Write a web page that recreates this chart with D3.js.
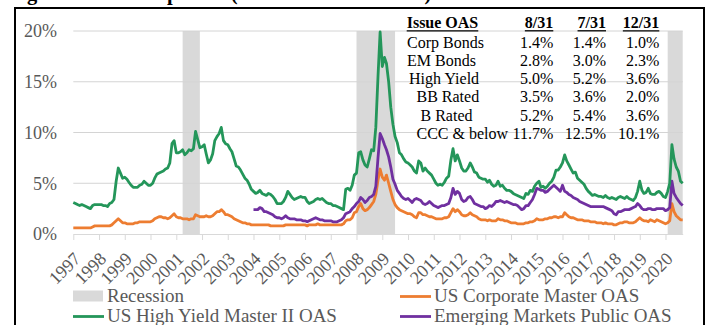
<!DOCTYPE html>
<html>
<head>
<meta charset="utf-8">
<script src="https://cdn.jsdelivr.net/npm/d3@7"></script>
<style>
  body { margin: 0; background: #fff; }
  svg { display: block; }
  text { font-family: "Liberation Serif", "Times New Roman", serif; }
</style>
</head>
<body>
<svg id="chart" width="709" height="325"></svg>
<script>
// Month-end option-adjusted spreads (%), one value per month starting Jan 1997
const hyOAS = [
  3.1, 3.0, 2.9, 2.8, 2.9, 2.8, 2.7, 2.6, 2.5, 2.8, 2.9, 2.9,
  2.9, 2.9, 2.8, 2.8, 2.7, 3.0, 3.1, 3.4, 5.2, 6.5, 6.0, 5.5,
  5.6, 5.4, 5.1, 4.8, 4.6, 4.6, 4.6, 4.8, 4.9, 5.2, 5.0, 4.8,
  4.8, 5.0, 5.5, 5.9, 6.0, 6.1, 6.2, 6.4, 6.5, 7.0, 8.9, 9.2,
  8.0, 8.0, 8.1, 8.3, 7.8, 8.0, 8.3, 8.2, 8.4, 10.1, 9.3, 8.5,
  8.6, 8.8, 7.9, 7.0, 7.3, 7.9, 9.2, 9.6, 9.9, 10.5, 9.2, 8.9,
  8.8, 8.4, 8.1, 7.4, 6.7, 6.6, 6.3, 5.9, 5.5, 5.3, 4.9, 4.4,
  4.2, 4.0, 4.1, 4.3, 4.0, 3.9, 3.8, 4.0, 3.9, 3.7, 3.4, 3.0,
  3.0, 3.0, 3.2, 3.6, 4.2, 3.9, 3.6, 3.4, 3.5, 3.6, 3.7, 3.6,
  3.6, 3.2, 3.0, 3.1, 3.2, 3.4, 3.5, 3.4, 3.5, 3.3, 3.1, 3.0,
  3.0, 2.8, 2.8, 2.7, 2.6, 2.5, 2.4, 4.4, 4.5, 4.3, 4.8, 5.8,
  6.0, 8.0, 8.1, 7.3, 6.8, 6.6, 7.4, 8.3, 8.2, 10.5, 15.5, 19.9,
  16.5, 17.4, 16.8, 15.0, 12.5, 10.8, 9.6, 9.0, 8.0, 7.8, 7.4, 7.1,
  7.0, 6.8, 6.6, 6.2, 6.0, 7.2, 7.0, 6.2, 6.5, 6.2, 6.0, 5.8,
  5.4, 5.0, 4.8, 4.9, 4.8, 5.1, 5.5, 5.7, 7.3, 8.4, 7.2, 7.8,
  7.2, 6.5, 6.2, 6.2, 6.5, 7.0, 6.6, 6.1, 6.0, 5.6, 5.5, 5.4,
  5.4, 5.1, 5.3, 4.9, 4.7, 4.8, 5.2, 4.7, 4.8, 4.5, 4.3, 4.3,
  4.2, 4.0, 3.9, 3.8, 3.7, 3.6, 3.5, 4.0, 3.9, 4.3, 4.2, 4.7,
  5.0, 5.2, 4.6, 4.7, 4.5, 4.7, 5.0, 5.2, 5.6, 6.3, 6.3, 6.6,
  7.0, 7.8, 7.2, 6.8, 6.4, 6.0, 6.1, 5.5, 5.3, 5.1, 4.9, 4.5,
  4.2, 4.0, 3.8, 3.9, 3.8, 3.7, 3.7, 3.6, 3.8, 3.6, 3.5, 3.6,
  3.5, 3.4, 3.6, 3.7, 3.6, 3.5, 3.7, 3.5, 3.4, 3.3, 3.6, 4.2,
  5.2, 4.3, 4.0, 4.1, 4.5, 4.0, 3.9, 3.9, 4.1, 4.2, 4.0, 3.7,
  3.6, 4.2, 5.0, 8.8, 7.4, 6.6, 6.2, 5.2, 5.0
];
const corpOAS = [
  0.6, 0.6, 0.6, 0.6, 0.6, 0.6, 0.6, 0.6, 0.6, 0.7, 0.8, 0.8,
  0.8, 0.8, 0.8, 0.8, 0.8, 0.8, 0.9, 1.1, 1.3, 1.5, 1.3, 1.1,
  1.1, 1.0, 1.0, 1.0, 1.0, 1.1, 1.1, 1.2, 1.2, 1.2, 1.2, 1.2,
  1.2, 1.3, 1.5, 1.6, 1.7, 1.7, 1.6, 1.6, 1.5, 1.6, 1.8, 2.0,
  1.7, 1.6, 1.6, 1.5, 1.5, 1.5, 1.4, 1.5, 1.5, 1.9, 1.8, 1.7,
  1.7, 1.7, 1.8, 1.7, 1.7, 1.8, 2.0, 2.2, 2.2, 2.4, 2.2, 1.9,
  1.9, 1.8, 1.7, 1.5, 1.4, 1.3, 1.2, 1.1, 1.1, 1.0, 1.0, 0.9,
  0.9, 0.9, 0.9, 0.9, 0.9, 0.9, 0.9, 0.9, 0.8, 0.8, 0.8, 0.8,
  0.8, 0.8, 0.8, 0.9, 0.9, 0.9, 0.9, 0.9, 0.9, 0.9, 0.9, 0.9,
  0.9, 0.8, 0.9, 0.9, 0.9, 0.9, 1.0, 0.9, 0.9, 0.9, 0.9, 0.9,
  0.9, 0.9, 0.9, 0.9, 0.9, 0.9, 1.0, 1.3, 1.4, 1.4, 1.6, 2.1,
  2.2, 2.7, 3.0, 2.5, 2.3, 2.4, 2.6, 2.9, 3.2, 3.9, 5.3, 6.4,
  5.6, 5.3, 5.8, 5.0, 4.2, 3.4, 2.9, 2.6, 2.4, 2.3, 2.2, 2.1,
  2.0, 2.0, 1.9, 1.7, 1.6, 2.1, 2.1, 1.9, 1.9, 1.8, 1.7, 1.7,
  1.6, 1.5, 1.5, 1.5, 1.5, 1.6, 1.6, 1.7, 2.1, 2.5, 2.2, 2.4,
  2.2, 1.9, 1.8, 1.8, 1.9, 2.1, 1.9, 1.8, 1.7, 1.5, 1.4, 1.4,
  1.4, 1.3, 1.4, 1.3, 1.3, 1.3, 1.5, 1.4, 1.4, 1.3, 1.3, 1.2,
  1.1, 1.1, 1.1, 1.0, 1.0, 1.0, 1.0, 1.1, 1.1, 1.2, 1.2, 1.3,
  1.5, 1.4, 1.4, 1.4, 1.5, 1.5, 1.6, 1.6, 1.7, 1.7, 1.6, 1.7,
  1.7, 2.1, 1.9, 1.7, 1.6, 1.6, 1.5, 1.4, 1.4, 1.4, 1.3, 1.3,
  1.3, 1.2, 1.2, 1.2, 1.1, 1.1, 1.1, 1.0, 1.1, 1.0, 1.0, 1.0,
  0.9, 0.9, 1.0, 1.1, 1.1, 1.2, 1.2, 1.1, 1.1, 1.1, 1.2, 1.4,
  1.6, 1.4, 1.3, 1.3, 1.2, 1.4, 1.3, 1.2, 1.4, 1.3, 1.2, 1.1,
  1.0, 1.1, 1.3, 3.0, 2.2, 1.8, 1.6, 1.4, 1.4
];
// Emerging markets index begins Jan 2004
const emStart = "2004-01";
const emOAS = [
  2.4, 2.4, 2.4, 2.6, 2.5, 2.2, 2.2, 2.1, 2.0, 1.9, 1.7, 1.6,
  1.6, 1.5, 1.6, 1.8, 1.6, 1.5, 1.5, 1.5, 1.4, 1.4, 1.4, 1.3,
  1.3, 1.2, 1.3, 1.4, 1.5, 1.6, 1.5, 1.4, 1.4, 1.3, 1.3, 1.3,
  1.3, 1.2, 1.2, 1.2, 1.3, 1.4, 1.6, 2.0, 2.1, 2.2, 2.5, 2.7,
  3.0, 3.2, 3.6, 3.4, 3.1, 3.3, 3.6, 3.7, 3.9, 4.7, 7.5, 9.9,
  9.4, 8.8, 8.3, 7.6, 6.6, 5.4, 4.9, 4.3, 4.0, 3.7, 3.5, 3.4,
  3.5, 3.3, 3.1, 3.4, 3.5, 3.4, 3.3, 3.0, 2.9, 3.0, 3.2, 3.0,
  2.8, 2.7, 2.6, 2.7, 2.8, 2.8, 2.9, 3.0, 3.6, 4.5, 3.9, 4.2,
  4.0, 3.4, 3.2, 3.3, 3.6, 3.7, 3.4, 3.0, 2.9, 2.8, 2.7, 2.7,
  2.5, 2.6, 2.8, 2.7, 2.9, 3.2, 3.2, 3.3, 3.2, 3.1, 3.2, 3.1,
  3.0, 2.9, 2.9, 2.8, 2.6, 2.4, 2.5, 2.8, 2.8, 3.1, 3.4, 3.9,
  4.5, 4.4, 4.3, 4.3, 4.1, 4.2, 4.4, 4.6, 4.8, 4.6, 4.4, 4.2,
  4.8, 4.2, 4.1, 3.9, 3.8, 3.6, 3.5, 3.4, 3.2, 3.1, 3.0, 2.9,
  2.8, 2.7, 2.7, 2.7, 2.7, 2.7, 2.7, 2.7, 2.6, 2.5, 2.4, 2.3,
  2.0, 1.9, 2.2, 2.2, 2.3, 2.4, 2.4, 2.4, 2.5, 2.6, 2.7, 3.0,
  2.8, 2.5, 2.4, 2.4, 2.5, 2.5, 2.4, 2.4, 2.5, 2.5, 2.5, 2.5,
  2.3, 2.4, 2.6, 5.2, 4.0, 3.6, 3.3, 3.0, 2.8
];
const seriesStart = "1997-01";

// Recession shading (month ranges)
const recessionStart = ["2001-04", "2008-01", "2020-02"];
const recessionEnd   = ["2001-12", "2009-07", "2020-09"];

// Axis ticks
const yTicks = [0, 5, 10, 15, 20];
const yearLabels = d3.range(1997, 2021).map(String);

// Summary table
const tableHeader = ["Issue OAS", "8/31", "7/31", "12/31"];
const tableRows = ["Corp Bonds", "EM Bonds", "High Yield", "BB Rated", "B Rated", "CCC & below"];
const tableValues = [
  [1.4, 1.4, 1.0],
  [2.8, 3.0, 2.3],
  [5.0, 5.2, 3.6],
  [3.5, 3.6, 2.0],
  [5.2, 5.4, 3.6],
  [11.7, 12.5, 10.1]
];

const titleText = "Figure 6: Credit Spreads (ICE BofAML Indices)";
const seriesNames = ["US High Yield Master II OAS", "US Corporate Master OAS", "Emerging Markets Public OAS"];
const colors = { hy: "#24965a", corp: "#ed7d31", em: "#7030a0", rec: "#d9d9d9", grid: "#d9d9d9", text: "#595959" };
const serif = '"Liberation Serif", "Times New Roman", serif';

const parseMonth = d3.timeParse("%Y-%m");
const toPoints = (start, values) => values.map((v, i) => ({ date: d3.timeMonth.offset(parseMonth(start), i), v }));

const svg = d3.select("#chart");

// Plot geometry
const x = d3.scaleTime()
  .domain([parseMonth("1997-01"), parseMonth("2020-09")])
  .range([73.3, 682.7]);
const y = d3.scaleLinear().domain([0, 20]).range([234, 31]);

// Title sits above the frame; only its descenders reach into view.
// Size it so "g" (Figure) starts near x=27 and "p" (Spreads) near x=167.
const title = svg.append("text")
  .attr("x", 0).attr("y", 0)
  .attr("font-size", 20).attr("font-weight", "bold").attr("fill", "#000")
  .text(titleText);
{
  const node = title.node();
  const gIdx = titleText.indexOf("g");
  const pIdx = titleText.indexOf("Sp") + 1;
  const span = node.getSubStringLength(gIdx, pIdx - gIdx);
  const fs = 20 * 140 / span;
  title.attr("font-size", fs);
  const lead = node.getSubStringLength(0, gIdx);
  title.attr("x", 27 - lead).attr("y", -0.5);
}

// Outer frame
svg.append("rect")
  .attr("x", 15).attr("y", 8).attr("width", 689).attr("height", 400)
  .attr("fill", "none").attr("stroke", "#000").attr("stroke-width", 2);

// Recession bands
svg.append("g").selectAll("rect")
  .data(recessionStart.map((s, i) => [parseMonth(s), parseMonth(recessionEnd[i])]))
  .join("rect")
  .attr("x", d => x(d[0])).attr("width", d => x(d[1]) - x(d[0]))
  .attr("y", y(20)).attr("height", y(0) - y(20))
  .attr("fill", colors.rec);

// Horizontal gridlines
svg.append("g").selectAll("line")
  .data(yTicks.filter(t => t > 0))
  .join("line")
  .attr("x1", x.range()[0]).attr("x2", x.range()[1])
  .attr("y1", d => y(d)).attr("y2", d => y(d))
  .attr("stroke", "#d4d4d4").attr("stroke-width", 1);

// Y axis labels
svg.append("g").selectAll("text")
  .data(yTicks)
  .join("text")
  .attr("x", 57).attr("y", d => y(d)).attr("dy", "0.36em")
  .attr("text-anchor", "end").attr("font-size", 18).attr("fill", colors.text)
  .text(d => d + "%");

// X axis with yearly ticks
const xAxis = d3.axisBottom(x)
  .tickValues(yearLabels.map(s => d3.timeParse("%Y")(s)))
  .tickSize(6).tickSizeOuter(0).tickFormat(d3.timeFormat("%Y"));
const gx = svg.append("g").attr("transform", `translate(0,${y(0)})`).call(xAxis);
gx.select(".domain").attr("stroke", colors.grid).attr("stroke-width", 1.2);
gx.selectAll(".tick line").attr("stroke", colors.grid);
gx.selectAll(".tick text")
  .style("font-family", serif)
  .attr("font-size", 18).attr("fill", colors.text)
  .attr("text-anchor", "end")
  .attr("transform", "translate(-1,17) rotate(-45)")
  .attr("y", 0).attr("x", 0).attr("dy", "0.7em");

// Series lines
const line = d3.line().x(d => x(d.date)).y(d => y(d.v)).curve(d3.curveLinear);
const series = [
  { key: "corp", pts: toPoints(seriesStart, corpOAS) },
  { key: "em", pts: toPoints(emStart, emOAS) },
  { key: "hy", pts: toPoints(seriesStart, hyOAS) }
];
svg.append("g").selectAll("path")
  .data(series)
  .join("path")
  .attr("d", d => line(d.pts))
  .attr("fill", "none")
  .attr("stroke", d => colors[d.key])
  .attr("stroke-width", 2.8)
  .attr("stroke-linejoin", "round");

// Summary table
const table = svg.append("g");
const colRight = [553.3, 606, 659.3];
const rowLabelX = [407, 407, 409, 416.5, 420.5, 416.5];
const headerY = 28.3, rowY0 = 47.7, rowStep = 18.2;
const fmt = d => d3.format(".1f")(d) + "%";

const headerCells = tableHeader.map((h, i) => ({
  text: h,
  x: i === 0 ? 406.7 : colRight[i - 1],
  anchor: i === 0 ? "start" : "end"
}));
headerCells.forEach(c => {
  const t = table.append("text")
    .attr("x", c.x).attr("y", headerY)
    .attr("text-anchor", c.anchor)
    .attr("font-size", 16).attr("font-weight", "bold").attr("fill", "#000")
    .text(c.text);
  const w = t.node().getComputedTextLength();
  const x0 = c.anchor === "start" ? c.x : c.x - w;
  table.append("line")
    .attr("x1", x0).attr("x2", x0 + w)
    .attr("y1", headerY + 2.5).attr("y2", headerY + 2.5)
    .attr("stroke", "#000").attr("stroke-width", 1.3);
});
tableRows.forEach((r, i) => {
  const yy = rowY0 + i * rowStep;
  table.append("text")
    .attr("x", rowLabelX[i]).attr("y", yy)
    .attr("font-size", 16).attr("fill", "#000")
    .text(r);
  tableValues[i].forEach((v, j) => {
    table.append("text")
      .attr("x", colRight[j]).attr("y", yy)
      .attr("text-anchor", "end")
      .attr("font-size", 16).attr("fill", "#000")
      .text(fmt(v));
  });
});

// Legend
const legend = svg.append("g");
const legendItems = [
  { label: "Recession", type: "rect", color: colors.rec, x: 73, y: 296 },
  { label: seriesNames[0], type: "line", color: colors.hy, x: 73, y: 316.5 },
  { label: seriesNames[1], type: "line", color: colors.corp, x: 400, y: 296.5 },
  { label: seriesNames[2], type: "line", color: colors.em, x: 400, y: 316.5 }
];
legendItems.forEach(it => {
  if (it.type === "rect") {
    legend.append("rect").attr("x", it.x).attr("y", it.y - 5.5)
      .attr("width", 30).attr("height", 11).attr("fill", it.color);
  } else {
    legend.append("line").attr("x1", it.x).attr("x2", it.x + 31)
      .attr("y1", it.y).attr("y2", it.y)
      .attr("stroke", it.color).attr("stroke-width", 2.8);
  }
  legend.append("text")
    .attr("x", it.x + 34).attr("y", it.y + 5.8)
    .attr("font-size", 19).attr("fill", colors.text)
    .text(it.label);
});
</script>
</body>
</html>
